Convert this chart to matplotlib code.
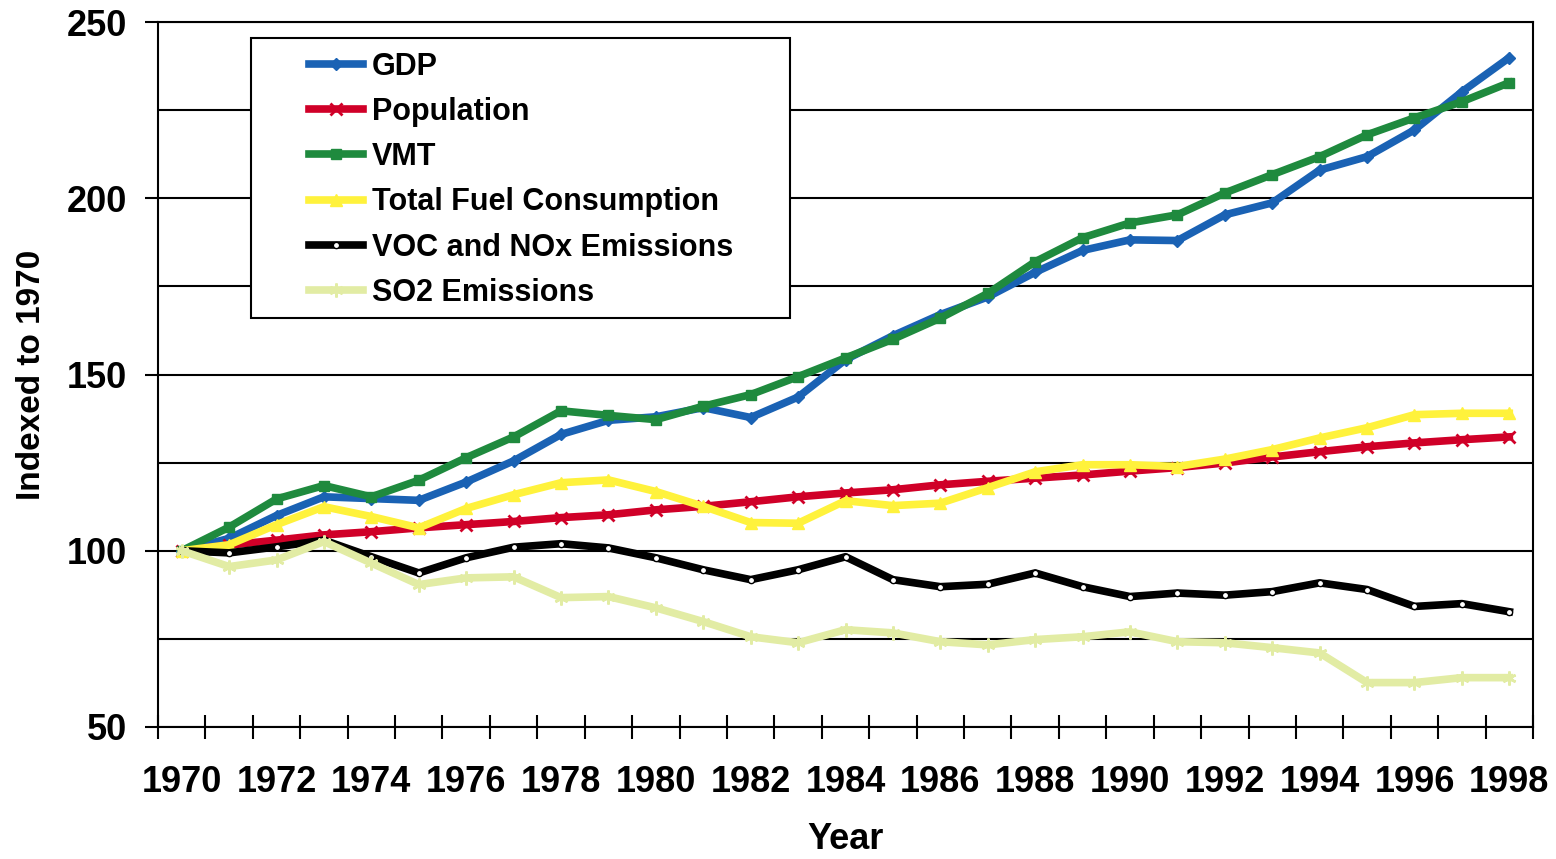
import matplotlib
matplotlib.use("Agg")
import matplotlib.pyplot as plt
from matplotlib.patches import Rectangle

plt.rcParams['font.family'] = ['Liberation Sans', 'DejaVu Sans']
plt.rcParams['font.weight'] = 'bold'

years = list(range(1970, 1999))

gdp = [100, 103.5, 110, 115.3, 114.8, 114.3, 119.5, 125.5, 133, 137, 138, 140.6,
       137.8, 143.6, 154.2, 161, 167, 172, 179, 185.2, 188.2, 188, 195.3, 198.7,
       208, 211.8, 219.4, 230.2, 239.9]
population = [100, 101.6, 103, 104.5, 105.4, 106.5, 107.4, 108.3, 109.4, 110.2, 111.6, 112.6,
              113.9, 115.3, 116.4, 117.3, 118.7, 119.7, 120.6, 121.5, 122.6, 123.6, 124.9, 126.6,
              128.1, 129.5, 130.6, 131.5, 132.3]
vmt = [100, 106.7, 114.7, 118.5, 115.3, 120, 126.4, 132.3, 139.7, 138.4, 137.2, 141,
       144.3, 149.4, 154.7, 160, 166, 173, 182, 188.8, 193, 195.3, 201.5, 206.7,
       211.8, 218, 222.8, 227.4, 232.8]
fuel = [100, 101.7, 107.4, 112.5, 109.7, 106.5, 112, 115.9, 119.3, 120.1, 116.8, 112.6,
        108, 107.8, 114.2, 112.8, 113.5, 117.9, 122.4, 124.4, 124.4, 123.9, 126, 128.7,
        132, 134.9, 138.6, 139, 139]
voc_nox = [100, 99.4, 101.1, 103, 98.3, 93.7, 98, 101, 102, 100.8, 98, 94.6,
           91.8, 94.6, 98.3, 91.8, 89.8, 90.5, 93.7, 89.8, 87, 88, 87.4, 88.4,
           90.9, 89, 84.2, 85, 82.7]
so2 = [100, 95.5, 97.4, 102.6, 96.5, 90.4, 92.3, 92.6, 86.7, 87, 83.8, 79.9,
       75.6, 73.9, 77.6, 76.7, 74.2, 73.3, 74.8, 75.6, 77, 74.2, 73.9, 72.5,
       71, 62.6, 62.6, 64, 64]

labels = ['GDP', 'Population', 'VMT', 'Total Fuel Consumption',
          'VOC and NOx Emissions', 'SO2 Emissions']

fig = plt.figure(figsize=(15.56, 8.59), dpi=100)
ax = fig.add_axes([158/1556, 1 - 727/859, 1375/1556, 705/859])

lw = 5.5
ax.plot(years, gdp, color='#1a62b4', lw=lw, marker='D', ms=6, label=labels[0])
ax.plot(years, population, color='#d00028', lw=lw, marker='x', ms=8, mew=2, label=labels[1])
ax.plot(years, vmt, color='#1f8a3e', lw=lw, marker='s', ms=7, label=labels[2])
ax.plot(years, fuel, color='#fff23c', lw=lw, marker='^', ms=8, label=labels[3])
ax.plot(years, voc_nox, color='black', lw=lw, marker='o', ms=4.5, mfc='white', mec='black',
        mew=1, label=labels[4])
ax.plot(years, so2, color='#e2eca4', lw=lw, marker=(6, 2, 0), ms=10, mew=1.8, label=labels[5])

ax.set_xlim(1969.5, 1998.5)
ax.set_ylim(50, 250)

ax.set_yticks(range(50, 251, 50))
ax.set_yticks(range(75, 250, 50), minor=True)
ax.set_xticks(range(1970, 1999, 2))
ax.set_xticks([y + 0.5 for y in range(1969, 1999)], minor=True)

ax.grid(True, axis='y', which='both', color='black', lw=1.5)
ax.set_axisbelow(True)

ax.tick_params(axis='y', which='major', direction='out', length=9.5, width=1.5,
               pad=13, labelsize=26)
ax.tick_params(axis='y', which='minor', length=0)
ax.tick_params(axis='x', which='major', length=0, pad=27, labelsize=26)
ax.tick_params(axis='x', which='minor', direction='inout', length=17, width=1.5)

for s in ax.spines.values():
    s.set_linewidth(1.5)

ax.set_xlabel('Year', fontsize=26, fontweight='bold', labelpad=16)
ax.set_ylabel('Indexed to 1970', fontsize=24, fontweight='bold')
ax.yaxis.set_label_coords(-0.081, 0.5)

# legend frame drawn separately (wide side margins)
ax.add_patch(Rectangle((0.0676, 0.580), 0.392, 0.397, transform=ax.transAxes,
                       facecolor='white', edgecolor='black', lw=1.5, zorder=4))
leg = ax.legend(loc='upper left', bbox_to_anchor=(0.110, 0.958), frameon=False,
                fontsize=22, borderpad=0, borderaxespad=0, handlelength=1.75,
                handletextpad=0.3, labelspacing=0.5)
leg.set_zorder(6)
for t in leg.get_texts():
    t.set_fontweight('bold')

fig.savefig('out.png', dpi=100, facecolor='white')
